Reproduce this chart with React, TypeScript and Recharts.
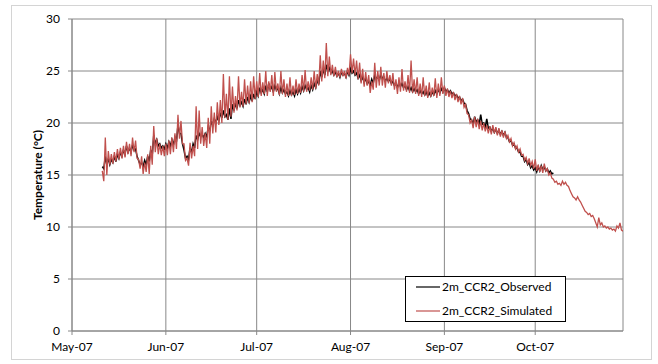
import { LineChart, Line, XAxis, YAxis, CartesianGrid, Legend } from "recharts";

// days counted from 1 May 2007, two readings per day (day high, night low)
const START_DAY = 10;
const STEP = 0.5;

const monthTicks = [0, 31, 61, 92, 123, 153];
const monthLabels = ["May-07", "Jun-07", "Jul-07", "Aug-07", "Sep-07", "Oct-07"];
const tempTicks = [0, 5, 10, 15, 20, 25, 30];

const observed = [
  // May
  15.8, 15.6, 16.8, 16.0, 16.6, 16.0, 16.5, 16.2, 16.8, 16.3, 17.0, 16.6, 17.2, 16.8,
  17.4, 17.0, 17.8, 17.2, 17.6, 17.2, 17.9, 17.4, 17.5, 16.8, 16.4, 16.0, 16.2, 15.8,
  16.4, 16.0, 16.8, 16.3, 17.4, 16.9, 18.8, 18.0, 18.4, 17.8, 18.0, 17.6, 17.8, 17.5,
  // Jun
  18.0, 17.6, 18.2, 17.8, 18.4, 17.9, 18.6, 18.2, 19.8, 19.0, 19.0, 18.0, 17.4, 16.6,
  16.8, 16.5, 17.6, 17.2, 18.0, 17.6, 18.8, 18.4, 19.0, 18.7, 18.9, 18.6, 19.0, 18.7,
  19.6, 19.2, 20.2, 19.8, 20.4, 20.0, 20.6, 20.2, 21.0, 20.5, 21.2, 20.6, 20.8, 20.3,
  21.4, 20.4, 21.8, 21.2, 21.9, 21.4, 22.2, 21.7, 22.0, 21.6, 22.3, 21.8, 22.5, 22.0,
  22.6, 22.1, 22.8, 22.3,
  // Jul
  23.0, 22.6, 23.4, 22.9, 23.2, 22.8, 23.6, 23.0, 23.8, 23.2, 23.5, 23.0, 23.6, 23.2,
  23.3, 22.8, 23.4, 22.9, 23.2, 22.8, 23.0, 22.6, 23.1, 22.7, 23.0, 22.6, 23.2, 22.8,
  23.3, 22.9, 23.5, 23.1, 23.6, 23.2, 23.4, 23.0, 23.6, 23.2, 23.8, 23.4, 24.2, 23.7,
  25.0, 24.4, 25.2, 24.6, 25.6, 25.0, 25.3, 24.8, 25.0, 24.6, 24.9, 24.5, 24.8, 24.4,
  24.9, 24.6, 24.8, 24.4, 25.0, 24.6,
  // Aug
  25.2, 24.8, 25.0, 24.6, 24.8, 24.3, 24.6, 24.1, 24.4, 23.9, 24.3, 23.8, 24.0, 23.6,
  24.2, 23.8, 24.6, 24.2, 24.5, 24.1, 24.7, 24.3, 24.4, 24.0, 24.3, 24.0, 24.2, 23.8,
  24.0, 23.6, 23.8, 23.4, 23.9, 23.5, 23.8, 23.4, 23.6, 23.2, 23.5, 23.1, 23.4, 23.0,
  23.3, 23.0, 23.2, 22.8, 23.1, 22.8, 23.0, 22.7, 23.0, 22.6, 22.9, 22.6, 23.0, 22.7,
  23.1, 22.8, 23.2, 22.9,
  // Sep - early Oct
  23.3, 23.0, 23.4, 23.0, 23.2, 22.9, 23.1, 22.8, 22.9, 22.6, 22.7, 22.4, 22.5, 22.1,
  22.3, 21.9, 21.8, 21.2, 20.9, 20.4, 20.3, 19.9, 20.6, 20.1, 20.3, 19.9, 20.8, 19.9,
  20.0, 19.6, 20.4, 19.5, 19.6, 19.2, 19.5, 19.1, 19.4, 19.0, 19.3, 18.9, 19.2, 18.8,
  19.1, 18.6, 18.6, 18.2, 18.3, 17.9, 18.0, 17.6, 17.6, 17.2, 17.2, 16.8, 16.8, 16.3,
  16.5, 16.0, 16.2, 15.7, 15.9, 15.5, 15.7, 15.3, 15.8, 15.4, 15.9, 15.5, 15.8, 15.4,
  15.6, 15.2, 15.4, 15.1, 15.2,
];

const simulated = [
  // May
  15.4, 14.4, 18.6, 15.0, 17.3, 16.0, 17.0, 16.1, 17.2, 16.3, 17.5, 16.5, 17.6, 16.6,
  17.8, 16.7, 18.2, 17.0, 18.0, 16.8, 18.6, 17.2, 18.3, 16.6, 16.5, 15.6, 16.8, 15.1,
  16.2, 15.3, 17.0, 15.1, 17.8, 16.0, 19.7, 17.2, 18.5, 17.0, 18.0, 16.9, 17.8, 16.8,
  // Jun
  18.0, 16.9, 18.3, 17.0, 18.6, 17.2, 19.0, 17.5, 20.8, 18.5, 20.2, 18.0, 18.0, 16.4,
  16.6, 15.9, 18.1, 16.6, 17.8, 16.8, 21.6, 17.5, 21.2, 18.0, 19.6, 17.8, 19.0, 17.6,
  20.5, 18.0, 21.6, 19.0, 21.0, 19.1, 22.0, 19.8, 22.2, 20.0, 24.7, 20.5, 22.8, 20.3,
  24.5, 20.6, 23.5, 21.0, 22.6, 21.2, 24.5, 21.5, 23.0, 21.6, 24.2, 21.8, 23.6, 21.9,
  24.0, 22.0, 24.5, 22.3,
  // Jul
  24.0, 22.5, 24.8, 22.6, 23.9, 22.8, 25.0, 22.6, 24.0, 23.0, 24.6, 22.6, 24.9, 23.0,
  23.8, 22.7, 25.0, 22.8, 24.2, 22.5, 23.8, 22.6, 24.4, 22.6, 23.6, 22.7, 24.2, 22.8,
  23.8, 22.9, 24.6, 23.0, 25.1, 23.0, 24.0, 23.1, 24.4, 23.2, 25.0, 23.3, 24.7, 23.6,
  26.5, 24.0, 26.0, 24.3, 27.7, 24.5, 26.4, 24.6, 25.6, 24.5, 25.4, 24.4, 25.0, 24.4,
  25.2, 24.5, 25.0, 24.3, 25.3, 24.6,
  // Aug
  26.6, 24.8, 26.2, 24.6, 26.0, 24.2, 25.8, 23.8, 25.2, 23.5, 24.9, 23.6, 24.6, 22.9,
  24.0, 23.2, 25.8, 23.4, 25.0, 23.6, 25.4, 23.6, 24.8, 23.4, 25.0, 23.8, 24.6, 23.6,
  24.8, 23.2, 24.2, 22.8, 24.4, 23.0, 25.2, 23.1, 24.0, 23.0, 24.6, 22.9, 26.0, 22.9,
  24.2, 22.8, 24.4, 22.6, 23.8, 22.5, 24.4, 22.6, 23.6, 22.4, 23.9, 22.5, 23.4, 22.6,
  24.3, 22.4, 23.8, 22.6,
  // Sep
  24.4, 22.8, 23.6, 22.6, 23.3, 22.5, 23.1, 22.4, 23.0, 22.2, 22.8, 22.0, 22.6, 21.8,
  22.4, 21.5, 21.8, 20.9, 20.8, 20.0, 20.3, 19.5, 20.6, 19.6, 20.4, 19.4, 20.2, 19.3,
  20.0, 19.2, 19.8, 19.0, 19.7, 18.9, 19.8, 19.0, 19.6, 18.8, 19.5, 18.7, 19.3, 18.6,
  19.2, 18.5, 18.8, 18.2, 18.5, 17.8, 18.1, 17.5, 17.8, 17.2, 17.5, 16.9, 17.0, 16.4,
  16.7, 16.1, 16.6, 15.9, 16.3, 15.6,
  // Oct
  16.5, 15.4, 16.0, 15.3, 15.9, 15.2, 16.1, 15.4, 15.6, 15.0, 15.2, 14.7, 14.6, 14.3,
  14.4, 14.1, 14.2, 14.0, 14.4, 14.1, 14.3, 14.0, 13.9, 13.5, 13.2, 12.9, 12.8, 12.6,
  12.9, 12.6, 12.4, 12.1, 11.8, 11.5, 11.4, 11.2, 11.3, 11.0, 11.1, 10.8, 10.4, 10.0,
  10.9, 10.2, 10.4, 10.0, 10.1, 9.9, 10.0, 9.8, 9.9, 9.7, 9.8, 9.6, 10.1, 9.9,
  10.4, 9.7, 9.6,
];

const chartData = simulated.map((v, i) => ({
  day: START_DAY + i * STEP,
  sim: v,
  obs: i < observed.length ? observed[i] : undefined,
}));

const FONT = "Lato, 'Open Sans', sans-serif";
const GRID = "#888888";
const RED = "#c0504d";

function AxisTitle() {
  return (
    <text
      x={37}
      y={175}
      transform="rotate(-90 37 175)"
      textAnchor="middle"
      dominantBaseline="central"
      fontFamily={FONT}
      fontSize={12}
      fontWeight="bold"
      fill="#000"
    >
      Temperature (°C)
    </text>
  );
}

function LegendBox() {
  return (
    <div
      style={{
        width: 161,
        height: 46,
        boxSizing: "border-box",
        border: "1px solid #000",
        background: "#fff",
      }}
    >
      <svg width={159} height={44}>
        <line x1={10} x2={34} y1={10} y2={10} stroke="#000" strokeWidth={1.2} />
        <text x={36} y={14} fontFamily={FONT} fontSize={12} fill="#000">
          2m_CCR2_Observed
        </text>
        <line x1={10} x2={34} y1={34} y2={34} stroke={RED} strokeWidth={1.2} />
        <text x={36} y={38} fontFamily={FONT} fontSize={12} fill="#000">
          2m_CCR2_Simulated
        </text>
      </svg>
    </div>
  );
}

export default function App() {
  return (
    <div style={{ position: "absolute", left: 0, top: 0, width: 658, height: 364, background: "#fff" }}>
      <div
        style={{
          position: "absolute",
          left: 11,
          top: 5,
          width: 641,
          height: 355,
          boxSizing: "border-box",
          border: "1px solid #d4d4d4",
        }}
      />
      <div style={{ position: "absolute", left: 0, top: 0 }}>
        <LineChart
          width={658}
          height={364}
          data={chartData}
          margin={{ top: 19, right: 35, bottom: 3, left: 22 }}
        >
          <CartesianGrid stroke={GRID} strokeWidth={1} />
          <XAxis
            type="number"
            dataKey="day"
            domain={[0, 182]}
            ticks={monthTicks}
            interval={0}
            allowDataOverflow
            height={30}
            tickSize={4}
            tickMargin={7}
            stroke={GRID}
            tick={{ fill: "#000", fontSize: 12, fontFamily: FONT }}
            tickFormatter={(v: number) => monthLabels[monthTicks.indexOf(v)] ?? ""}
          />
          <YAxis
            type="number"
            domain={[0, 30]}
            ticks={tempTicks}
            interval={0}
            width={50}
            tickSize={4}
            tickMargin={8}
            stroke={GRID}
            tick={{ fill: "#000", fontSize: 12, fontFamily: FONT }}
            label={<AxisTitle />}
          />
          <Legend
            layout="horizontal"
            verticalAlign="middle"
            align="center"
            content={() => <LegendBox />}
            wrapperStyle={{ left: 405, top: 276, width: 161, height: 46, bottom: "auto" }}
          />
          <Line
            type="linear"
            dataKey="obs"
            stroke="#000"
            strokeWidth={1.5}
            dot={false}
            isAnimationActive={false}
          />
          <Line
            type="linear"
            dataKey="sim"
            stroke={RED}
            strokeWidth={1.3}
            dot={false}
            isAnimationActive={false}
          />
        </LineChart>
      </div>
    </div>
  );
}
